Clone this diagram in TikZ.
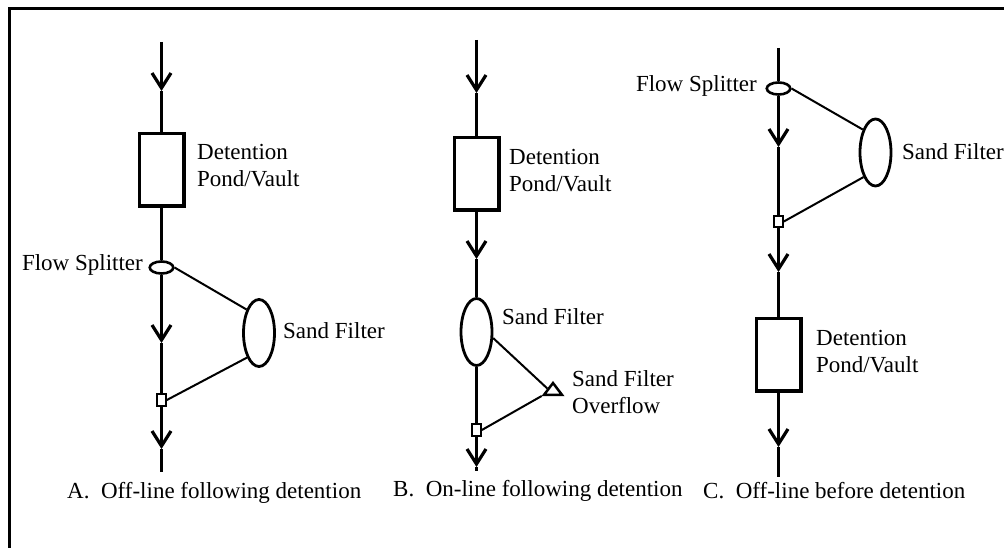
\documentclass[tikz,border=0pt]{standalone}
\usepackage{fontspec}
\setmainfont{Liberation Serif}
\usetikzlibrary{arrows.meta,shapes.geometric}
\begin{document}
\begin{tikzpicture}[x=1pt,y=-1pt,
  every node/.style={font=\fontsize{23}{27}\selectfont, inner sep=0pt},
  flow/.style={line width=3.2pt},
  link/.style={line width=2pt},
  flowarrow/.style={flow,-{Straight Barb[length=15pt,width=19pt]}},
  pond/.style={draw, rectangle, line width=3.5pt, minimum width=44.5pt, minimum height=72.5pt},
  filter/.style={draw, ellipse, line width=2.8pt, minimum width=31pt, minimum height=67pt},
  splitter/.style={draw, ellipse, line width=2.6pt, minimum width=23.5pt, minimum height=12pt},
  junction/.style={draw, rectangle, line width=2.2pt, minimum width=8.5pt, minimum height=11.5pt},
  overflow/.style={draw, regular polygon, regular polygon sides=3, line width=2.5pt,
    minimum size=21pt, yscale=0.76, transform shape},
  lbl/.style={align=left, anchor=base west},
]
\useasboundingbox (0,0) rectangle (1004,548);
\fill[white] (0,0) rectangle (1004,548);
\draw[line width=3.5pt] (9.5,548) -- (9.5,8.7) -- (1004,8.7);

% ---------- A ----------
\coordinate (A0) at (161.5,42);
\coordinate (A1) at (161.5,91);
\node[pond] (Ap) at (161.5,170) {};
\node[splitter] (As) at (161.5,267.5) {};
\coordinate (A2) at (161.5,343);
\node[junction] (Aq) at (161.5,400) {};
\coordinate (A3) at (161.5,449);
\coordinate (A4) at (161.5,472);
\node[filter] (Af) at (259,333) {};
\draw[flowarrow] (A0) -- (A1);
\draw[flow] (A1) -- (Ap);
\draw[flow] (Ap) -- (As);
\draw[flowarrow] (As) -- (A2);
\draw[flow] (A2) -- (Aq);
\draw[flowarrow] (Aq) -- (A3);
\draw[flow] (A3) -- (A4);
\draw[link] (As.east) -- (Af.118);
\draw[link] (Af.244) -- (Aq.east);
\node[lbl] (ApL) at (197,187) {Detention\\Pond/Vault};
\node[anchor=base east] (AsL) at (143,270) {Flow Splitter};
\node[anchor=base west] (AfL) at (283,338) {Sand Filter};
\node[anchor=base west] (Acap) at (67,498) {A.\ \ Off-line following detention};

% ---------- B ----------
\coordinate (B0) at (476.5,40);
\coordinate (B1) at (476.5,93);
\node[pond] (Bp) at (476.5,174) {};
\coordinate (B2) at (476.5,259);
\node[filter] (Bf) at (476.5,332) {};
\node[junction] (Bq) at (476.5,430) {};
\coordinate (B3) at (476.5,467);
\coordinate (B4) at (476.5,471);
\node[overflow] (Bt) at (553,391) {};
\draw[flowarrow] (B0) -- (B1);
\draw[flow] (B1) -- (Bp);
\draw[flowarrow] (Bp) -- (B2);
\draw[flow] (B2) -- (Bf);
\draw[flow] (Bf) -- (Bq);
\draw[flowarrow] (Bq) -- (B3);
\draw[flow] (B3) -- (B4);
\draw[link] (Bf.-20) -- (Bt.side 1);
\draw[link] (Bt.corner 2) -- (Bq.east);
\node[lbl] (BpL) at (509,192) {Detention\\Pond/Vault};
\node[anchor=base west] (BfL) at (502,324) {Sand Filter};
\node[lbl] (BtL) at (572,413) {Sand Filter\\Overflow};
\node[anchor=base west] (Bcap) at (393,496) {B.\ \ On-line following detention};

% ---------- C ----------
\coordinate (C0) at (778.5,48);
\node[splitter] (Cs) at (778.5,88.5) {};
\coordinate (C1) at (778.5,147);
\node[filter] (Cf) at (875.5,152.5) {};
\node[junction] (Cq) at (778.5,221.5) {};
\coordinate (C2) at (778.5,272);
\node[pond] (Cp) at (778.5,354.5) {};
\coordinate (C3) at (778.5,447);
\coordinate (C4) at (778.5,477);
\draw[flow] (C0) -- (Cs);
\draw[flowarrow] (Cs) -- (C1);
\draw[flow] (C1) -- (Cq);
\draw[flowarrow] (Cq) -- (C2);
\draw[flow] (C2) -- (Cp);
\draw[flowarrow] (Cp) -- (C3);
\draw[flow] (C3) -- (C4);
\draw[link] (Cs.east) -- (Cf.119);
\draw[link] (Cf.244) -- (Cq.east);
\node[anchor=base east] (CsL) at (757,92) {Flow Splitter};
\node[anchor=base west] (CfL) at (902,160) {Sand Filter};
\node[lbl] (CpL) at (816,372) {Detention\\Pond/Vault};
\node[anchor=base west] (Ccap) at (703,498) {C.\ \ Off-line before detention};
\end{tikzpicture}
\end{document}
